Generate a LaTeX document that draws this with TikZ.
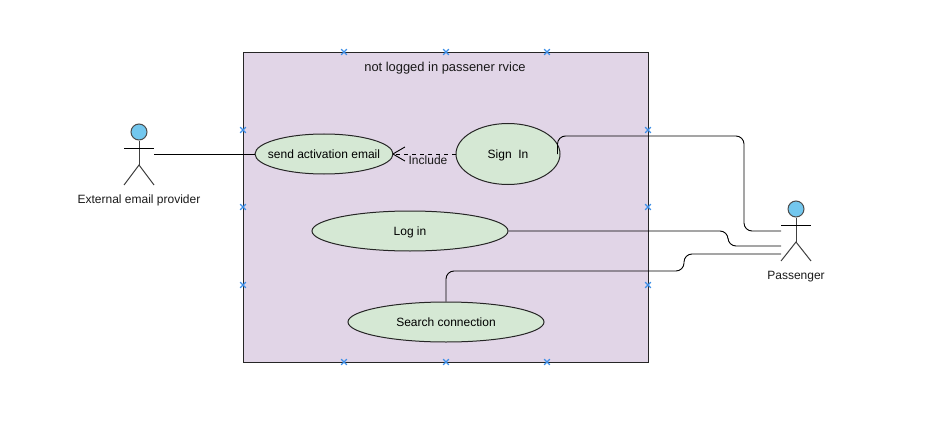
\documentclass[tikz,border=0pt]{standalone}
\usepackage{fontspec}
\setmainfont{Liberation Sans}
\usetikzlibrary{shapes.geometric,shapes.misc,arrows.meta}
\definecolor{boxfill}{HTML}{E1D5E7}
\definecolor{casefill}{HTML}{D5E8D4}
\definecolor{headfill}{HTML}{73C7EE}
\definecolor{portblue}{HTML}{3D8FE8}
\tikzset{
  usecase/.style={ellipse,draw=black!85,fill=casefill,line width=1pt,inner sep=-8pt,text height=10pt,text depth=2pt},
  label/.style={inner sep=0pt,text=black!90},
  head/.style={circle,draw=black!70,fill=headfill,line width=1pt,minimum size=16pt,inner sep=0pt},
  limb/.style={draw=black!75,line width=1pt},
  link/.style={draw=black,line width=.9pt,rounded corners=8pt},
  portmark/.style={cross out,draw=portblue,line width=1.2pt,minimum size=4.5pt,inner sep=0pt}
}
\begin{document}
\begin{tikzpicture}[x=1pt,y=-1pt,font=\fontsize{12}{14}\selectfont]
\useasboundingbox (0,0) rectangle (931,433);
\draw[fill=boxfill,line width=1pt,draw=black!85] (243,52.5) rectangle (648,362);
\node[label,font=\fontsize{12.9}{14}\selectfont] (title) at (445,68) {not logged in passener rvice};
\foreach \mx/\my [count=\i] in {344/52,446/52,547/52,344/362,446/362,547/362,243/130,243/207,243/285,648/130,648/207,648/285}
  \node[portmark] (port\i) at (\mx,\my) {};
% use cases
\node[usecase,minimum width=138pt,minimum height=40pt] (sendmail) at (324,154) {send activation email};
\node[usecase,minimum width=104pt,minimum height=61pt] (signin) at (508,154) {Sign\ \ In};
\node[usecase,minimum width=196pt,minimum height=40pt] (login) at (410,231) {Log in};
\node[usecase,minimum width=196pt,minimum height=40pt] (search) at (446,322) {Search connection};
% external provider
\node[head] (exthead) at (139,132) {};
\coordinate (extwaist) at (139,165);
\draw[limb] (exthead) -- (extwaist);
\draw[limb] (124,185) -- (extwaist) -- (154,185);
\draw[black,line width=.9pt] (124,148) -- (154,148);
\node[label] (extname) at (139,200.5) {External email provider};
% passenger
\node[head] (paxhead) at (796,209) {};
\coordinate (paxwaist) at (796,242);
\draw[limb] (paxhead) -- (paxwaist);
\draw[limb] (781,261) -- (paxwaist) -- (811,261);
\draw[black,line width=.9pt] (781,225) -- (811,225);
\node[label] (paxname) at (796,277) {Passenger};
% connectors
\coordinate (extport) at (154,154);
\coordinate (signport) at (557.5,154);
\coordinate (paxa) at (781,231);
\coordinate (paxb) at (781,246);
\coordinate (paxc) at (781,254);
\draw[link] (extport) -- (sendmail);
\draw[link] (signport) -- (557.5,136) -- (744,136) -- (744,231) -- (paxa);
\draw[link] (login.east) -- (728,231) -- (728,246) -- (paxb);
\draw[link] (search.north) -- (446,271) -- (684,271) -- (684,254) -- (paxc);
\draw[black,line width=.9pt,dash pattern=on 4pt off 4pt,-{Straight Barb[length=12pt,width=14pt]}] (signin.west) -- ([xshift=-1.5pt]sendmail.east);
\node[label] (inclabel) at (428,160.5) {Include};
\end{tikzpicture}
\end{document}
